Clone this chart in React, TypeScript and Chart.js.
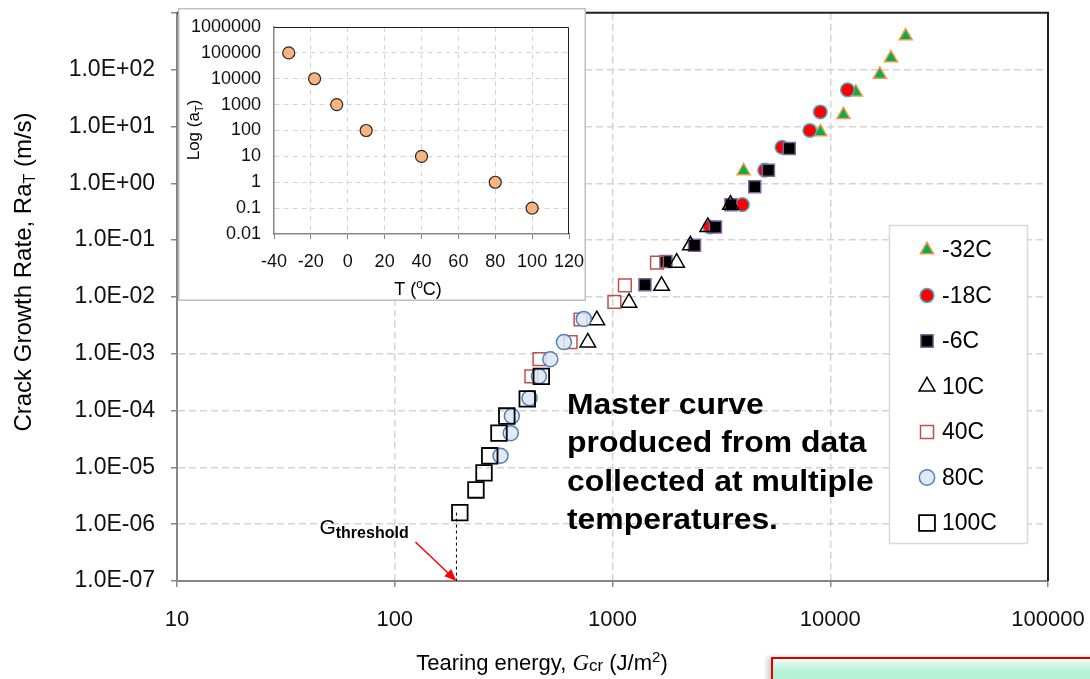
import React, { useEffect, useRef } from 'react';
import { Chart, registerables } from 'chart.js';

Chart.register(...registerables);

const FONT = '"Liberation Sans", Arial, Helvetica, sans-serif';
Chart.defaults.font.family = FONT;

// ---------- main chart data: tearing energy G (J/m^2) vs crack growth rate R·aT (m/s)
const SERIES_LABELS = ['-32C', '-18C', '-6C', '10C', '40C', '80C', '100C'];
const G_M32 = [4000, 9000, 11500, 13100, 16900, 19000, 22200];
const R_M32 = [1.65, 8.0, 16, 40, 82, 160, 390];
const G_M18 = [2800, 3950, 5000, 6000, 8050, 9000, 12000];
const R_M18 = [0.17, 0.42, 1.7, 4.3, 8.5, 18, 44];
const G_M6 = [1410, 1760, 2380, 2970, 3500, 4500, 5200, 6480];
const R_M6 = [0.0164, 0.042, 0.081, 0.17, 0.42, 0.87, 1.7, 4.1];
const G_10 = [770, 847, 1190, 1680, 1970, 2280, 2740, 3480];
const R_10 = [0.00158, 0.0039, 0.0079, 0.0157, 0.04, 0.081, 0.17, 0.42];
const G_40 = [424, 462, 642, 713, 1020, 1140, 1600];
const R_40 = [0.0004, 0.0008, 0.0016, 0.004, 0.0082, 0.016, 0.04];
const G_80 = [306, 341, 345, 416, 459, 518, 598, 738];
const R_80 = [1.6e-5, 4e-5, 8e-5, 1.65e-4, 4e-4, 8e-4, 1.6e-3, 4.1e-3];
const G_100 = [199, 236, 257, 273, 301, 327, 406, 471];
const R_100 = [1.6e-6, 4e-6, 8e-6, 1.6e-5, 4e-5, 8e-5, 1.6e-4, 4e-4];
const SERIES_G = [G_M32, G_M18, G_M6, G_10, G_40, G_80, G_100];
const SERIES_R = [R_M32, R_M18, R_M6, R_10, R_40, R_80, R_100];

const G_THRESHOLD = 192;
const X_MIN = 10;
const X_MAX = 100000;
const Y_MIN = 1e-7;
const Y_MAX = 1000;
const X_TICKS = [10, 100, 1000, 10000, 100000];
const Y_TICKS = [1e-7, 1e-6, 1e-5, 1e-4, 1e-3, 1e-2, 1e-1, 1, 10, 100, 1000];

const MASTER_TEXT = ['Master curve', 'produced from data', 'collected at multiple', 'temperatures.'];

// ---------- inset data: shift factor aT vs temperature
const INSET_T = [-32, -18, -6, 10, 40, 80, 100];
const INSET_AT = [1e5, 1e4, 1e3, 100, 10, 1, 0.1];
const INSET_X_TICKS = [-40, -20, 0, 20, 40, 60, 80, 100, 120];
const INSET_Y_TICKS = [0.01, 0.1, 1, 10, 100, 1000, 10000, 100000, 1000000];

// ---------- styles
const STYLES = [
  { style: 'triangle', r: 7.5, bg: '#00B050', bc: '#F79646', bw: 1.5 },
  { style: 'circle', r: 6.8, bg: '#FF0000', bc: '#4BACC6', bw: 1.5 },
  { style: 'rect', r: 8.5, bg: '#000000', bc: '#8064A2', bw: 1.5 },
  { style: 'triangle', r: 9, bg: 'rgba(255,255,255,0)', bc: '#000000', bw: 1.5 },
  { style: 'rect', r: 9, bg: 'rgba(255,255,255,0)', bc: '#C0504D', bw: 1.5 },
  { style: 'circle', r: 7.5, bg: 'rgba(220,230,242,0.85)', bc: '#4F81BD', bw: 1.5 },
  { style: 'rect', r: 11, bg: 'rgba(255,255,255,0)', bc: '#000000', bw: 1.8 },
];

const GRID = '#d4d4d4';
const AXIS = '#868686';

type Part = { t: string; font: string; dy?: number };

function richWidth(ctx: CanvasRenderingContext2D, parts: Part[]) {
  let w = 0;
  for (const p of parts) {
    ctx.font = p.font;
    w += ctx.measureText(p.t).width;
  }
  return w;
}

function drawRich(ctx: CanvasRenderingContext2D, parts: Part[], x: number, y: number, center: boolean) {
  let cx = center ? x - richWidth(ctx, parts) / 2 : x;
  ctx.textAlign = 'left';
  ctx.textBaseline = 'alphabetic';
  for (const p of parts) {
    ctx.font = p.font;
    ctx.fillText(p.t, cx, y + (p.dy || 0));
    cx += ctx.measureText(p.t).width;
  }
}

function marker(ctx: CanvasRenderingContext2D, style: string, x: number, y: number, r: number, fill: string, stroke: string, lw: number) {
  ctx.beginPath();
  if (style === 'circle') {
    ctx.arc(x, y, r, 0, Math.PI * 2);
  } else if (style === 'rect') {
    const s = r * Math.SQRT1_2;
    ctx.rect(x - s, y - s, 2 * s, 2 * s);
  } else {
    const a = (2 * Math.PI) / 3;
    ctx.moveTo(x, y - r);
    ctx.lineTo(x + Math.sin(a) * r, y - Math.cos(a) * r);
    ctx.lineTo(x + Math.sin(2 * a) * r, y - Math.cos(2 * a) * r);
    ctx.closePath();
  }
  ctx.fillStyle = fill;
  ctx.fill();
  ctx.lineWidth = lw;
  ctx.strokeStyle = stroke;
  ctx.stroke();
}

function fmtE(v: number) {
  const e = Math.round(Math.log10(v));
  if (e === 3) return '';
  return '1.0E' + (e < 0 ? '-' : '+') + String(Math.abs(e)).padStart(2, '0');
}

const mainDecor = {
  id: 'mainDecor',
  beforeDatasetsDraw(chart: any) {
    const { ctx, chartArea: a } = chart;
    ctx.save();
    ctx.strokeStyle = '#1f1f1f';
    ctx.lineWidth = 2;
    ctx.beginPath();
    ctx.moveTo(a.left, a.top);
    ctx.lineTo(a.right, a.top);
    ctx.lineTo(a.right, a.bottom);
    ctx.stroke();
    ctx.restore();
  },
  afterDraw(chart: any) {
    const { ctx } = chart;
    const xs = chart.scales.x;
    const ys = chart.scales.y;
    ctx.save();

    // threshold arrow + label
    const tipX = xs.getPixelForValue(G_THRESHOLD);
    const tipY = ys.getPixelForValue(Y_MIN);
    const sx = tipX - 41;
    const sy = tipY - 39;
    const ang = Math.atan2(tipY - sy, tipX - sx);
    ctx.strokeStyle = '#FF0000';
    ctx.fillStyle = '#FF0000';
    ctx.lineWidth = 1.5;
    ctx.beginPath();
    ctx.moveTo(sx, sy);
    ctx.lineTo(tipX - Math.cos(ang) * 8, tipY - Math.sin(ang) * 8);
    ctx.stroke();
    ctx.beginPath();
    ctx.moveTo(tipX, tipY);
    ctx.lineTo(tipX - Math.cos(ang) * 12 + Math.sin(ang) * 5, tipY - Math.sin(ang) * 12 - Math.cos(ang) * 5);
    ctx.lineTo(tipX - Math.cos(ang) * 12 - Math.sin(ang) * 5, tipY - Math.sin(ang) * 12 + Math.cos(ang) * 5);
    ctx.closePath();
    ctx.fill();
    ctx.fillStyle = '#000';
    drawRich(ctx, [
      { t: 'G', font: `21px ${FONT}` },
      { t: 'threshold', font: `bold 16px ${FONT}`, dy: 4 },
    ], tipX - 137, tipY - 47, false);

    // master curve text (slightly wide, as in the original slide)
    ctx.fillStyle = '#000';
    ctx.font = `bold 29px ${FONT}`;
    ctx.textAlign = 'left';
    ctx.textBaseline = 'alphabetic';
    MASTER_TEXT.forEach((line, i) => {
      ctx.save();
      ctx.translate(567, 414 + i * 38.3);
      ctx.scale(1.1, 1);
      ctx.fillText(line, 0, 0);
      ctx.restore();
    });

    // legend
    const lx = 889, ly = 225, lw = 138, lh = 318;
    ctx.fillStyle = '#fff';
    ctx.fillRect(lx, ly, lw, lh);
    ctx.strokeStyle = '#d9d9d9';
    ctx.lineWidth = 1.5;
    ctx.strokeRect(lx + 0.5, ly + 0.5, lw, lh);
    SERIES_LABELS.forEach((lab, i) => {
      const s = STYLES[i];
      const y = 250 + i * 45.5;
      marker(ctx, s.style, 927, y, s.r * 1.02, s.bg, s.bc, s.bw);
      ctx.fillStyle = '#000';
      ctx.font = `23px ${FONT}`;
      ctx.textAlign = 'left';
      ctx.textBaseline = 'middle';
      ctx.fillText(lab, 942, y + 1);
    });

    // axis titles
    ctx.fillStyle = '#000';
    drawRich(ctx, [
      { t: 'Tearing energy, ', font: `22px ${FONT}` },
      { t: 'G', font: `italic 23px "Liberation Serif", serif` },
      { t: 'cr', font: `17px ${FONT}`, dy: 1 },
      { t: ' (J/m', font: `22px ${FONT}` },
      { t: '2', font: `15px ${FONT}`, dy: -8 },
      { t: ')', font: `22px ${FONT}` },
    ], 542, 670, true);

    ctx.translate(31, 272);
    ctx.rotate(-Math.PI / 2);
    drawRich(ctx, [
      { t: 'Crack Growth Rate, Ra', font: `24px ${FONT}` },
      { t: 'T', font: `16px ${FONT}`, dy: 4 },
      { t: ' (m/s)', font: `24px ${FONT}` },
    ], 0, 0, true);
    ctx.restore();
  },
};

const insetDecor = {
  id: 'insetDecor',
  beforeDatasetsDraw(chart: any) {
    const { ctx, chartArea: a } = chart;
    ctx.save();
    ctx.strokeStyle = '#1f1f1f';
    ctx.lineWidth = 1;
    ctx.beginPath();
    ctx.moveTo(a.left, a.top + 0.5);
    ctx.lineTo(a.right - 0.5, a.top + 0.5);
    ctx.lineTo(a.right - 0.5, a.bottom);
    ctx.stroke();
    ctx.restore();
  },
  afterDraw(chart: any) {
    const { ctx, width, height } = chart;
    ctx.save();
    ctx.strokeStyle = '#bfbfbf';
    ctx.lineWidth = 1.5;
    ctx.strokeRect(0.75, 0.75, width - 1.5, height - 1.5);
    ctx.fillStyle = '#000';
    drawRich(ctx, [
      { t: 'T (', font: `18px ${FONT}` },
      { t: 'o', font: `12px ${FONT}`, dy: -7 },
      { t: 'C)', font: `18px ${FONT}` },
    ], 240, 287, true);
    ctx.translate(21, 122);
    ctx.rotate(-Math.PI / 2);
    drawRich(ctx, [
      { t: 'Log (a', font: `17px ${FONT}` },
      { t: 'T', font: `11px ${FONT}`, dy: 4 },
      { t: ')', font: `17px ${FONT}` },
    ], 0, 0, true);
    ctx.restore();
  },
};

function mainConfig(): any {
  const datasets: any[] = SERIES_LABELS.map((lab, i) => ({
    type: 'scatter',
    label: lab,
    data: SERIES_G[i].map((g, j) => ({ x: g, y: SERIES_R[i][j] })),
    pointStyle: STYLES[i].style,
    pointRadius: STYLES[i].r,
    pointHoverRadius: STYLES[i].r,
    pointBackgroundColor: STYLES[i].bg,
    pointBorderColor: STYLES[i].bc,
    pointBorderWidth: STYLES[i].bw,
    showLine: false,
    order: 10 - i,
  }));
  datasets.push({
    type: 'line',
    label: 'threshold',
    data: [{ x: G_THRESHOLD, y: R_100[0] }, { x: G_THRESHOLD, y: Y_MIN }],
    borderColor: '#000',
    borderWidth: 1,
    borderDash: [3, 3],
    pointRadius: 0,
    fill: false,
    order: 100,
  });
  return {
    type: 'scatter',
    data: { datasets },
    options: {
      responsive: false,
      animation: false,
      events: [],
      layout: { padding: { left: 0, top: 7, right: 42, bottom: 0 } },
      plugins: { legend: { display: false }, tooltip: { enabled: false } },
      scales: {
        x: {
          type: 'logarithmic',
          min: X_MIN,
          max: X_MAX,
          afterBuildTicks: (s: any) => { s.ticks = X_TICKS.map((v) => ({ value: v })); },
          afterFit: (s: any) => { s.height = 98; s.paddingLeft = 0; s.paddingRight = 0; },
          ticks: {
            callback: (v: any) => String(v),
            font: { size: 22, family: FONT },
            color: '#111',
            padding: 20,
            maxRotation: 0,
            autoSkip: false,
          },
          grid: {
            color: (c: any) => (c.tick && (c.tick.value === X_MIN || c.tick.value === X_MAX) ? 'rgba(0,0,0,0)' : GRID),
            lineWidth: 1.5,
            tickLength: 6,
            tickColor: AXIS,
            tickWidth: 1.5,
          },
          border: { display: true, color: AXIS, width: 2, dash: [7, 4] },
        },
        y: {
          type: 'logarithmic',
          min: Y_MIN,
          max: Y_MAX,
          afterBuildTicks: (s: any) => { s.ticks = Y_TICKS.map((v) => ({ value: v })); },
          afterFit: (s: any) => { s.width = 177; s.paddingTop = 0; s.paddingBottom = 0; },
          ticks: {
            callback: (v: any) => fmtE(Number(v)),
            font: { size: 23, family: FONT },
            color: '#111',
            padding: 16,
            autoSkip: false,
          },
          grid: {
            color: (c: any) => (c.tick && (c.tick.value === Y_MIN || c.tick.value === Y_MAX) ? 'rgba(0,0,0,0)' : GRID),
            lineWidth: 1.5,
            tickLength: 6,
            tickColor: AXIS,
            tickWidth: 1.5,
          },
          border: { display: true, color: AXIS, width: 2, dash: [7, 4] },
        },
      },
    },
    plugins: [mainDecor],
  };
}

function insetConfig(): any {
  return {
    type: 'scatter',
    data: {
      datasets: [{
        label: 'aT',
        data: INSET_T.map((t, i) => ({ x: t, y: INSET_AT[i] })),
        pointRadius: 6,
        pointHoverRadius: 6,
        pointBackgroundColor: '#FAB57F',
        pointBorderColor: '#262626',
        pointBorderWidth: 1.2,
      }],
    },
    options: {
      responsive: false,
      animation: false,
      events: [],
      layout: { padding: { left: 0, top: 19, right: 17, bottom: 0 } },
      plugins: { legend: { display: false }, tooltip: { enabled: false } },
      scales: {
        x: {
          type: 'linear',
          min: -40,
          max: 120,
          afterBuildTicks: (s: any) => { s.ticks = INSET_X_TICKS.map((v) => ({ value: v })); },
          afterFit: (s: any) => { s.height = 67; s.paddingLeft = 0; s.paddingRight = 0; },
          ticks: { font: { size: 18, family: FONT }, color: '#111', padding: 12, maxRotation: 0, autoSkip: false },
          grid: {
            color: (c: any) => (c.tick && (c.tick.value === -40 || c.tick.value === 120) ? 'rgba(0,0,0,0)' : GRID),
            lineWidth: 1,
            tickLength: 5,
            tickColor: AXIS,
          },
          border: { display: true, color: AXIS, width: 1.5, dash: [5, 4] },
        },
        y: {
          type: 'logarithmic',
          min: 0.01,
          max: 1000000,
          afterBuildTicks: (s: any) => { s.ticks = INSET_Y_TICKS.map((v) => ({ value: v })); },
          afterFit: (s: any) => { s.width = 96; s.paddingTop = 0; s.paddingBottom = 0; },
          ticks: { callback: (v: any) => String(v), font: { size: 18, family: FONT }, color: '#111', padding: 13, autoSkip: false },
          grid: {
            color: (c: any) => (c.tick && (c.tick.value === 0.01 || c.tick.value === 1000000) ? 'rgba(0,0,0,0)' : GRID),
            lineWidth: 1,
            drawTicks: false,
          },
          border: { display: true, color: AXIS, width: 1.5, dash: [5, 4] },
        },
      },
    },
    plugins: [insetDecor],
  };
}

export default function App() {
  const mainRef = useRef<HTMLCanvasElement>(null);
  const insetRef = useRef<HTMLCanvasElement>(null);
  useEffect(() => {
    const main = new Chart(mainRef.current as HTMLCanvasElement, mainConfig());
    const inset = new Chart(insetRef.current as HTMLCanvasElement, insetConfig());
    return () => {
      main.destroy();
      inset.destroy();
    };
  }, []);
  return (
    <div style={{ position: 'fixed', left: 0, top: 0, width: 1090, height: 679, background: '#fff', overflow: 'hidden' }}>
      <canvas ref={mainRef} width={1090} height={679} style={{ position: 'absolute', left: 0, top: 0 }} />
      <canvas ref={insetRef} width={408} height={293} style={{ position: 'absolute', left: 178, top: 8, background: '#fff' }} />
      <div
        style={{
          position: 'absolute',
          left: 771,
          top: 657,
          width: 340,
          height: 40,
          borderTop: '2px solid #e00000',
          borderLeft: '2px solid #e00000',
          background: 'linear-gradient(180deg, #ffffff 0px, #d8f8ea 4px, #b3f0d6 14px)',
          boxShadow: '-4px 0 5px rgba(0,0,0,0.18)',
          boxSizing: 'border-box',
        }}
      />
    </div>
  );
}
